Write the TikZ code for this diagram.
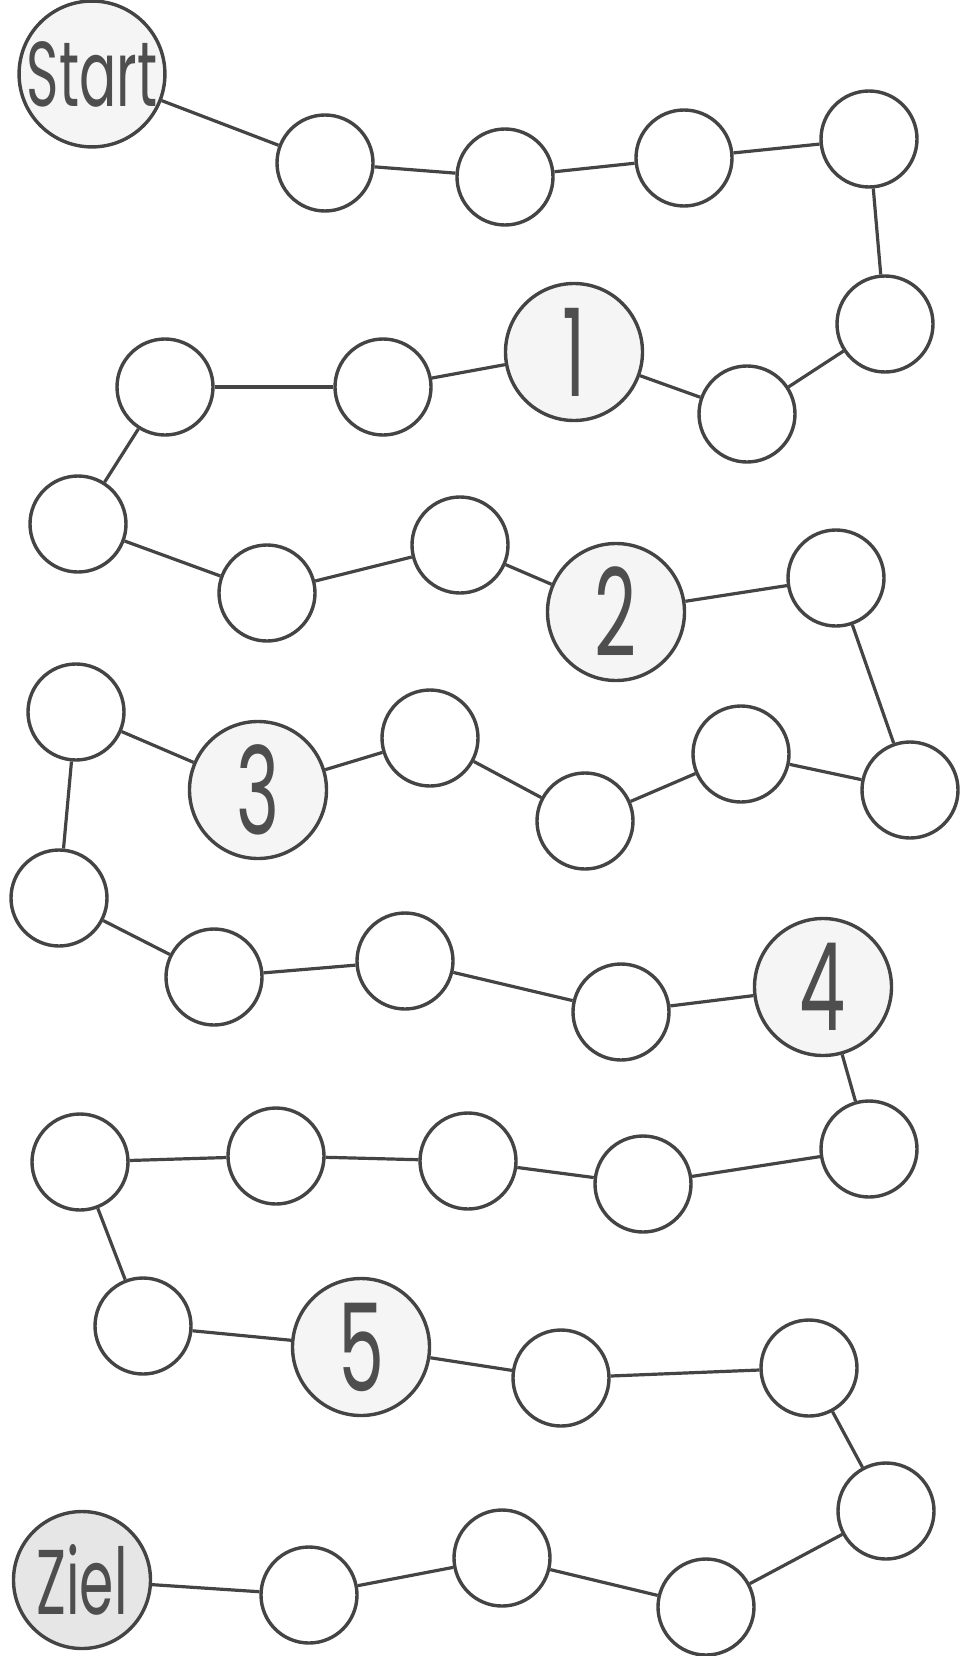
\documentclass[tikz,border=0pt]{standalone}
\usepackage{graphicx}
\usepackage{fontspec}
\newfontfamily\spielfont{Poppins}
\definecolor{linie}{RGB}{68,68,68}
\definecolor{schrift}{RGB}{78,78,78}
\definecolor{zahlgrau}{RGB}{245,245,245}
\definecolor{zielgrau}{RGB}{230,230,230}
\newcommand{\feldtext}[2]{{\fontsize{#1}{#1}\selectfont\spielfont\scalebox{0.6}[1]{#2}}}
\tikzset{
  feld/.style={circle, draw=linie, line width=3.4pt, fill=white, minimum size=96pt, inner sep=0pt},
  zahlfeld/.style={feld, minimum size=137pt, fill=zahlgrau, text=schrift},
  weg/.style={draw=linie, line width=3.2pt}
}
\begin{document}
\begin{tikzpicture}[x=1pt, y=-1pt]
  \useasboundingbox (0,0) rectangle (961,1656);

  % start and top row
  \node[zahlfeld] (start) at (92,74) {\feldtext{92pt}{Start}};
  \node[feld] (a1) at (325,163) {};
  \node[feld] (a2) at (505,177) {};
  \node[feld] (a3) at (684,158) {};
  \node[feld] (a4) at (869,139) {};
  \node[feld] (a5) at (885,324) {};
  \node[feld] (a6) at (747,414) {};
  \node[zahlfeld] (z1) at (574,352) {\feldtext{122pt}{1}};
  \node[feld] (a7) at (383,387) {};
  \node[feld] (a8) at (165,387) {};

  % second row
  \node[feld] (a9) at (78,524) {};
  \node[feld] (a10) at (267,593) {};
  \node[feld] (a11) at (460,545) {};
  \node[zahlfeld] (z2) at (616,612) {\feldtext{122pt}{2}};
  \node[feld] (a12) at (836,578) {};

  % third row
  \node[feld] (a13) at (910,790) {};
  \node[feld] (a14) at (741,754) {};
  \node[feld] (a15) at (585,821) {};
  \node[feld] (a16) at (430,738) {};
  \node[zahlfeld] (z3) at (258,790) {\feldtext{122pt}{3}};
  \node[feld] (a17) at (76,712) {};

  % fourth row
  \node[feld] (a18) at (59,898) {};
  \node[feld] (a19) at (214,977) {};
  \node[feld] (a20) at (405,961) {};
  \node[feld] (a21) at (621,1012) {};
  \node[zahlfeld] (z4) at (823,987) {\feldtext{122pt}{4}};

  % fifth row
  \node[feld] (a22) at (869,1149) {};
  \node[feld] (a23) at (643,1184) {};
  \node[feld] (a24) at (468,1161) {};
  \node[feld] (a25) at (276,1156) {};
  \node[feld] (a26) at (80,1162) {};

  % sixth row
  \node[feld] (a27) at (143,1326) {};
  \node[zahlfeld] (z5) at (361,1347) {\feldtext{122pt}{5}};
  \node[feld] (a28) at (561,1378) {};
  \node[feld] (a29) at (809,1368) {};

  % last row and goal
  \node[feld] (a30) at (886,1511) {};
  \node[feld] (a31) at (706,1607) {};
  \node[feld] (a32) at (502,1558) {};
  \node[feld] (a33) at (309,1595) {};
  \node[zahlfeld, fill=zielgrau] (ziel) at (82,1580) {\feldtext{92pt}{Ziel}};

  % path
  \foreach \von/\nach in {start/a1, a1/a2, a2/a3, a3/a4, a4/a5, a5/a6, a6/z1, z1/a7, a7/a8,
      a8/a9, a9/a10, a10/a11, a11/z2, z2/a12, a12/a13, a13/a14, a14/a15, a15/a16, a16/z3,
      z3/a17, a17/a18, a18/a19, a19/a20, a20/a21, a21/z4, z4/a22, a22/a23, a23/a24, a24/a25,
      a25/a26, a26/a27, a27/z5, z5/a28, a28/a29, a29/a30, a30/a31, a31/a32, a32/a33, a33/ziel}
    \draw[weg] (\von) -- (\nach);
\end{tikzpicture}
\end{document}
